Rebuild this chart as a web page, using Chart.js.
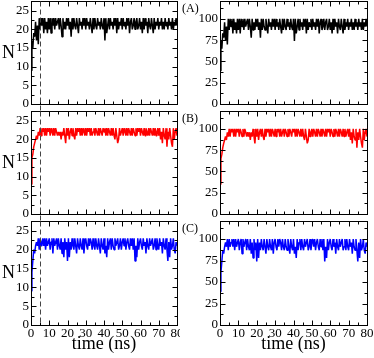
<!DOCTYPE html>
<html>
<head>
<meta charset="utf-8">
<script src="https://cdn.jsdelivr.net/npm/chart.js@4.4.1/dist/chart.umd.min.js"></script>
<style>
  body { margin: 0; background: #fff; }
  #wrap { position: relative; width: 374px; height: 358px; overflow: hidden; font-family: 'Liberation Serif', serif; }
  canvas { position: absolute; }
  .lbl { position: absolute; color: #000; line-height: 1; white-space: nowrap; }
</style>
</head>
<body>
<div id="wrap"></div>
<script>
// time axis (ns), one sample every 0.5 ns
const time = [];
for (let i = 0; i <= 160; i++) time.push(i / 2);

// number of contacts N
const nA = [
  9,17,15,19,18,22,17,21,16,23, 20,23,21,23,19,23,20,22,19,23,
  20,23,19,23,21,23,20,23,21,22, 23,20,23,21,18,23,20,22,20,23,
  21,23,20,22,18,23,20,23,21,20, 23,21,19,23,21,22,20,23,21,23,
  20,23,21,22,20,23,21,19,23,20, 23,21,20,23,21,22,20,23,21,20,
  23,17,23,19,21,23,20,23,21,22, 20,23,21,23,19,23,20,22,21,23,
  20,23,21,22,20,23,21,23,19,22, 23,20,21,23,20,22,23,20,21,23,
  20,22,19,23,20,23,21,22,19,23, 21,20,23,21,19,23,20,22,21,23,
  20,22,21,23,20,22,20,23,21,22, 20,23,21,22,20,23,20,22,21,23,
  21
];
const nB = [
  8,15,16,18,19,20,21,20,22,21, 23,21,23,22,23,21,23,21,23,22,
  23,21,23,22,21,23,21,23,22,21, 22,21,22,20,22,21,23,21,19,23,
  21,23,20,22,23,21,23,21,20,23, 21,23,22,23,21,23,21,23,22,21,
  23,21,23,22,23,21,23,21,22,23, 21,23,22,21,23,21,23,22,21,23,
  22,23,21,23,21,23,22,21,23,21, 23,21,20,23,21,19,20,23,21,22,
  23,21,23,22,21,23,21,23,22,21, 23,21,23,22,21,23,21,23,22,23,
  21,23,22,21,23,21,23,22,21,23, 21,23,22,21,23,21,23,21,22,23,
  21,23,20,22,19,23,21,20,23,18, 22,20,23,21,19,18,23,20,22,23,
  21
];
const nC = [
  9,14,17,20,19,21,22,21,23,20, 23,21,22,23,21,23,20,23,21,22,
  23,20,22,23,19,23,21,22,23,20, 23,21,20,23,19,22,18,23,20,22,
  17,23,18,22,20,23,21,20,23,21, 19,23,21,20,23,21,20,23,19,22,
  23,21,20,23,21,23,22,20,23,21, 20,23,21,20,23,21,19,23,21,20,
  23,19,21,18,23,20,22,23,20,23, 21,20,23,21,22,23,20,21,23,20,
  22,23,21,23,20,22,23,21,20,23, 21,23,20,23,17,21,18,23,20,22,
  23,21,20,23,21,22,19,23,21,20, 23,21,22,23,20,21,23,20,23,21,
  20,23,21,22,19,23,21,20,23,20, 17,22,18,23,20,21,23,20,19,22,
  21
];

// same runs as a percentage
const pA = [
  39,74,65,83,78,96,74,91,70,100, 87,100,91,100,83,100,87,96,83,100,
  87,100,83,100,91,100,87,100,91,96, 100,87,100,91,78,100,87,96,87,100,
  91,100,87,96,78,100,87,100,91,87, 100,91,83,100,91,96,87,100,91,100,
  87,100,91,96,87,100,91,83,100,87, 100,91,87,100,91,96,87,100,91,87,
  100,74,100,83,91,100,87,100,91,96, 87,100,91,100,83,100,87,96,91,100,
  87,100,91,96,87,100,91,100,83,96, 100,87,91,100,87,96,100,87,91,100,
  87,96,83,100,87,100,91,96,83,100, 91,87,100,91,83,100,87,96,91,100,
  87,96,91,100,87,96,87,100,91,96, 87,100,91,96,87,100,87,96,91,100,
  91
];
const pB = [
  35,65,70,78,83,87,91,87,96,91, 100,91,100,96,100,91,100,91,100,96,
  100,91,100,96,91,100,91,100,96,91, 96,91,96,87,96,91,100,91,83,100,
  91,100,87,96,100,91,100,91,87,100, 91,100,96,100,91,100,91,100,96,91,
  100,91,100,96,100,91,100,91,96,100, 91,100,96,91,100,91,100,96,91,100,
  96,100,91,100,91,100,96,91,100,91, 100,91,87,100,91,83,87,100,91,96,
  100,91,100,96,91,100,91,100,96,91, 100,91,100,96,91,100,91,100,96,100,
  91,100,96,91,100,91,100,96,91,100, 91,100,96,91,100,91,100,91,96,100,
  91,100,87,96,83,100,91,87,100,78, 96,87,100,91,83,78,100,87,96,100,
  91
];
const pC = [
  39,61,74,87,83,91,96,91,100,87, 100,91,96,100,91,100,87,100,91,96,
  100,87,96,100,83,100,91,96,100,87, 100,91,87,100,83,96,78,100,87,96,
  74,100,78,96,87,100,91,87,100,91, 83,100,91,87,100,91,87,100,83,96,
  100,91,87,100,91,100,96,87,100,91, 87,100,91,87,100,91,83,100,91,87,
  100,83,91,78,100,87,96,100,87,100, 91,87,100,91,96,100,87,91,100,87,
  96,100,91,100,87,96,100,91,87,100, 91,100,87,100,74,91,78,100,87,96,
  100,91,87,100,91,96,83,100,91,87, 100,91,96,100,87,91,100,87,100,91,
  87,100,91,96,83,100,91,87,100,87, 74,96,78,100,87,91,100,87,83,96,
  91
];

const xTicks = [0, 10, 20, 30, 40, 50, 60, 70, 80];
const xMinor = [5, 15, 25, 35, 45, 55, 65, 75];
const nTicks = [0, 5, 10, 15, 20, 25];
const nMinor = [2.5, 7.5, 12.5, 17.5, 22.5];
const pTicks = [0, 25, 50, 75, 100];
const pMinor = [12.5, 37.5, 62.5, 87.5, 112.5];
const panelLabels = ['(A)', '(B)', '(C)'];
const dashTime = 5;

const colors = ['#000000', '#ff0000', '#0000ff'];

// geometry of the grid of panels
const colLeft = [0, 186], colWidth = [180, 188], axisW = [31, 34], padRight = [3, 7];
const rowTop = [0, 110, 220], rowHeight = [112, 112, 138], xAxisH = [8, 8, 33];

const font = 'Liberation Serif';

// frame, inward ticks on all four sides, dashed marker line
const framePlugin = {
  id: 'frame',
  afterDatasetsDraw(chart, args, opts) {
    const { ctx, chartArea: a, scales: { x, y } } = chart;
    const L = Math.round(a.left) + 0.5, R = Math.round(a.right) + 0.5;
    const T = Math.round(a.top) + 0.5, B = Math.round(a.bottom) + 0.5;
    ctx.save();
    ctx.strokeStyle = '#000';
    ctx.lineWidth = 1;
    ctx.strokeRect(L, T, R - L, B - T);
    ctx.beginPath();
    const xt = (list, len) => list.forEach(v => {
      const px = Math.round(x.getPixelForValue(v)) + 0.5;
      ctx.moveTo(px, B); ctx.lineTo(px, B - len);
      ctx.moveTo(px, T); ctx.lineTo(px, T + len);
    });
    const yt = (list, len) => list.forEach(v => {
      const py = Math.round(y.getPixelForValue(v)) + 0.5;
      if (py < T || py > B) return;
      ctx.moveTo(L, py); ctx.lineTo(L + len, py);
      ctx.moveTo(R, py); ctx.lineTo(R - len, py);
    });
    xt(xTicks, 5); xt(xMinor, 3);
    yt(opts.major, 5); yt(opts.minor, 3);
    ctx.stroke();
    if (opts.dash) {
      const px = Math.round(x.getPixelForValue(dashTime)) + 0.5;
      ctx.strokeStyle = '#444';
      ctx.setLineDash([5, 3]);
      ctx.beginPath();
      ctx.moveTo(px, T);
      ctx.lineTo(px, B + opts.extend);
      ctx.stroke();
    }
    ctx.restore();
  }
};

const wrap = document.getElementById('wrap');

function addLabel(text, left, top, size) {
  const d = document.createElement('div');
  d.className = 'lbl';
  d.textContent = text;
  d.style.left = left + 'px';
  d.style.top = top + 'px';
  d.style.fontSize = size + 'px';
  wrap.appendChild(d);
}

const series = [[nA, pA], [nB, pB], [nC, pC]];

series.forEach((pair, row) => {
  pair.forEach((values, col) => {
    const cv = document.createElement('canvas');
    cv.width = colWidth[col];
    cv.height = rowHeight[row];
    cv.style.left = colLeft[col] + 'px';
    cv.style.top = rowTop[row] + 'px';
    wrap.appendChild(cv);

    const last = row === 2;
    const yTicks = col === 0 ? nTicks : pTicks;

    new Chart(cv, {
      type: 'line',
      data: {
        datasets: [{
          data: values.map((v, i) => ({ x: time[i], y: v })),
          borderColor: colors[row],
          borderWidth: 1.5,
          borderJoinStyle: 'bevel',
          borderCapStyle: 'butt',
          pointRadius: 0,
          tension: 0,
        }]
      },
      options: {
        responsive: false,
        animation: false,
        layout: { padding: { top: 1, right: padRight[col], left: 0, bottom: 0 } },
        scales: {
          x: {
            type: 'linear',
            min: 0,
            max: 80,
            afterBuildTicks: s => { s.ticks = xTicks.map(v => ({ value: v })); },
            afterFit: s => { s.height = xAxisH[row]; s.paddingLeft = 0; s.paddingRight = 0; },
            grid: { display: false, drawTicks: false },
            border: { display: false },
            ticks: {
              display: last,
              autoSkip: false,
              maxRotation: 0,
              padding: 1,
              color: '#000',
              font: { family: font, size: 13 }
            },
            title: {
              display: last,
              text: 'time (ns)',
              color: '#000',
              font: { family: font, size: 18 },
              padding: { top: 0, bottom: 3 }
            }
          },
          y: {
            min: 0,
            max: col === 0 ? 27.6 : 121,
            afterBuildTicks: s => { s.ticks = yTicks.map(v => ({ value: v })); },
            afterFit: s => { s.width = axisW[col]; s.paddingTop = 0; s.paddingBottom = 0; },
            grid: { display: false, drawTicks: false },
            border: { display: false },
            ticks: {
              autoSkip: false,
              padding: 2,
              color: '#000',
              font: { family: font, size: 13 }
            }
          }
        },
        plugins: {
          legend: { display: false },
          tooltip: { enabled: false },
          frame: {
            major: yTicks,
            minor: col === 0 ? nMinor : pMinor,
            dash: col === 0,
            extend: last ? 0 : 7
          }
        }
      },
      plugins: [framePlugin]
    });
  });

  addLabel('N', 2, rowTop[row] + 43, 18);
  addLabel(panelLabels[row], 182, rowTop[row] + 2, 12);
});
</script>
</body>
</html>
